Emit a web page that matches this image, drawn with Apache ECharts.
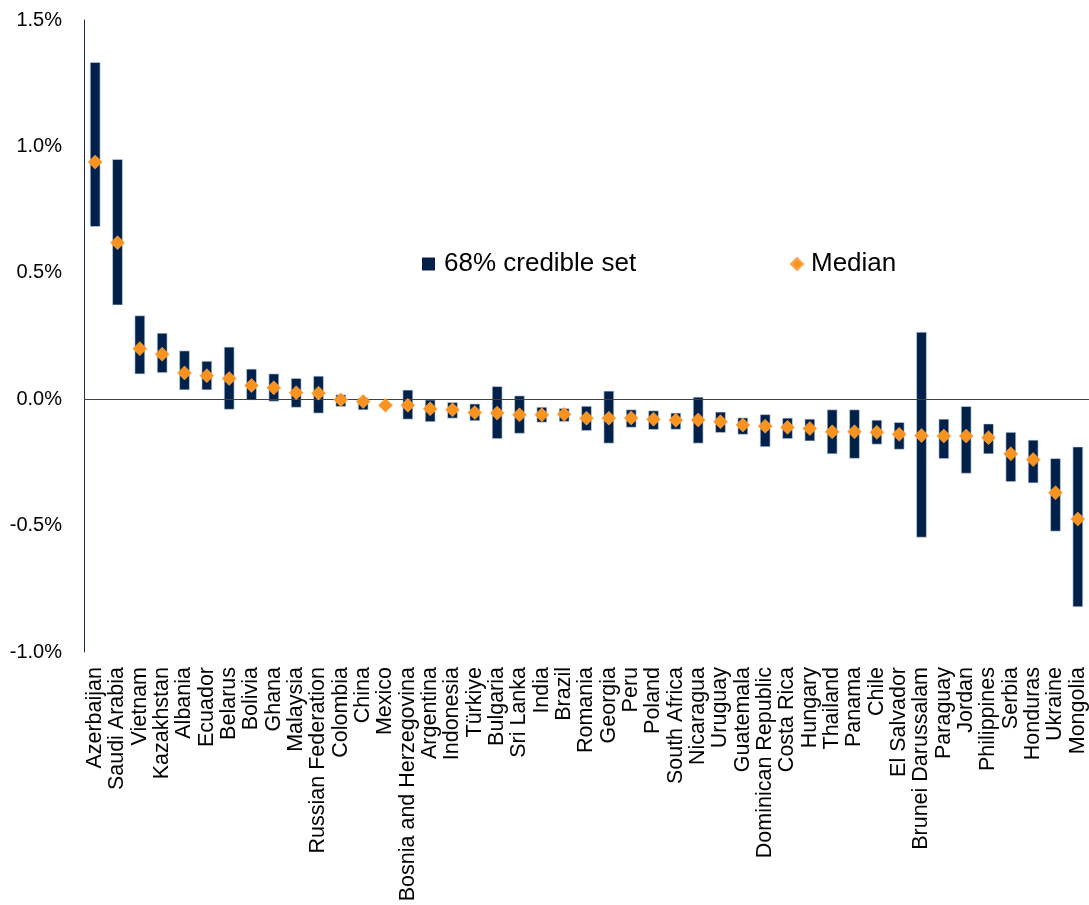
<!DOCTYPE html>
<html>
<head>
<meta charset="utf-8">
<script src="https://cdn.jsdelivr.net/npm/echarts@6/dist/echarts.min.js"></script>
<style>
html,body{margin:0;padding:0;background:#fff;}
#chart{width:1089px;height:905px;}
</style>
</head>
<body>
<div id="chart"></div>
<script>
const categories = ['Azerbaijan','Saudi Arabia','Vietnam','Kazakhstan','Albania','Ecuador','Belarus','Bolivia','Ghana','Malaysia','Russian Federation','Colombia','China','Mexico','Bosnia and Herzegovina','Argentina','Indonesia','Türkiye','Bulgaria','Sri Lanka','India','Brazil','Romania','Georgia','Peru','Poland','South Africa','Nicaragua','Uruguay','Guatemala','Dominican Republic','Costa Rica','Hungary','Thailand','Panama','Chile','El Salvador','Brunei Darussalam','Paraguay','Jordan','Philippines','Serbia','Honduras','Ukraine','Mongolia'];

const upper = [1.332,0.948,0.330,0.261,0.191,0.150,0.206,0.119,0.100,0.082,0.091,0.017,0.004,-0.018,0.036,-0.003,-0.013,-0.019,0.050,0.013,-0.032,-0.037,-0.028,0.032,-0.042,-0.046,-0.055,0.008,-0.051,-0.074,-0.061,-0.075,-0.079,-0.042,-0.042,-0.083,-0.092,0.265,-0.079,-0.029,-0.098,-0.131,-0.162,-0.235,-0.189];

const lower = [0.683,0.373,0.100,0.105,0.037,0.037,-0.040,-0.003,-0.008,-0.032,-0.055,-0.029,-0.042,-0.030,-0.079,-0.089,-0.075,-0.085,-0.156,-0.135,-0.091,-0.088,-0.124,-0.174,-0.111,-0.120,-0.119,-0.174,-0.132,-0.139,-0.188,-0.156,-0.165,-0.216,-0.234,-0.178,-0.198,-0.546,-0.235,-0.293,-0.216,-0.326,-0.331,-0.522,-0.821];

const median = [0.938,0.619,0.200,0.178,0.104,0.093,0.082,0.054,0.045,0.026,0.024,-0.002,-0.009,-0.024,-0.024,-0.038,-0.042,-0.053,-0.055,-0.062,-0.062,-0.060,-0.075,-0.075,-0.074,-0.079,-0.083,-0.082,-0.089,-0.102,-0.107,-0.111,-0.116,-0.129,-0.129,-0.131,-0.139,-0.144,-0.146,-0.146,-0.152,-0.216,-0.239,-0.370,-0.474];

const yTicks = {min: -1.0, max: 1.5, interval: 0.5};

const navy = '#01214A';
const orange = '#F7931E';
const font = 'Liberation Sans, Arial, sans-serif';

const rangeData = categories.map((c, i) => [i, lower[i], upper[i]]);
const medianData = categories.map((c, i) => [i, median[i]]);

const chart = echarts.init(document.getElementById('chart'), null, {renderer: 'canvas'});
chart.setOption({
  animation: false,
  backgroundColor: '#fff',
  grid: {left: 84, right: 0, top: 20, bottom: 253, containLabel: false},
  legend: [
    {
      data: [{name: '68% credible set', icon: 'rect'}],
      left: 422, top: 251, padding: 0,
      itemWidth: 13, itemHeight: 13,
      textStyle: {fontFamily: font, fontSize: 26, color: '#000', padding: [0, 0, 0, 4]}
    },
    {
      data: [{name: 'Median', icon: 'diamond', itemStyle: {opacity: 1}}],
      left: 790, top: 251, padding: 0,
      itemWidth: 12, itemHeight: 12,
      textStyle: {fontFamily: font, fontSize: 26, color: '#000', padding: [0, 0, 0, 3]}
    }
  ],
  xAxis: {
    type: 'category',
    data: categories,
    boundaryGap: true,
    axisLine: {show: false},
    axisTick: {show: false},
    axisLabel: {
      interval: 0, rotate: 90, margin: 15,
      fontFamily: font, fontSize: 21.5, color: '#000'
    },
    splitLine: {show: false}
  },
  yAxis: {
    type: 'value',
    min: yTicks.min, max: yTicks.max, interval: yTicks.interval,
    axisLine: {show: true, lineStyle: {color: '#1B2E4B', width: 1}},
    axisTick: {show: false},
    splitLine: {show: false},
    axisLabel: {
      margin: 22, fontFamily: font, fontSize: 20, color: '#000',
      formatter: v => v.toFixed(1) + '%'
    }
  },
  series: [
    {
      name: '68% credible set',
      type: 'custom',
      itemStyle: {color: navy},
      encode: {x: 0, y: [1, 2]},
      data: rangeData,
      renderItem: function (params, api) {
        const x = api.value(0);
        const lo = api.value(1), hi = api.value(2);
        const pTop = api.coord([x, hi]);
        const pBot = api.coord([x, lo]);
        const w = api.size([1, 0])[0] * 0.44;
        return {
          type: 'rect',
          shape: {x: pTop[0] - w / 2, y: pTop[1], width: w, height: pBot[1] - pTop[1]},
          style: {fill: navy, stroke: '#cfd9e4', lineWidth: 0.6}
        };
      },
      z: 2
    },
    {
      name: 'Median',
      type: 'scatter',
      symbol: 'diamond',
      symbolSize: 14,
      itemStyle: {color: orange, opacity: 1, borderColor: '#F9A94F', borderWidth: 0.6},
      data: medianData,
      z: 4,
      markLine: {
        silent: true,
        symbol: ['none', 'none'],
        label: {show: false},
        lineStyle: {color: '#404040', width: 1.2, type: 'solid'},
        data: [{yAxis: 0}],
        z: 3
      }
    }
  ]
});
</script>
</body>
</html>
